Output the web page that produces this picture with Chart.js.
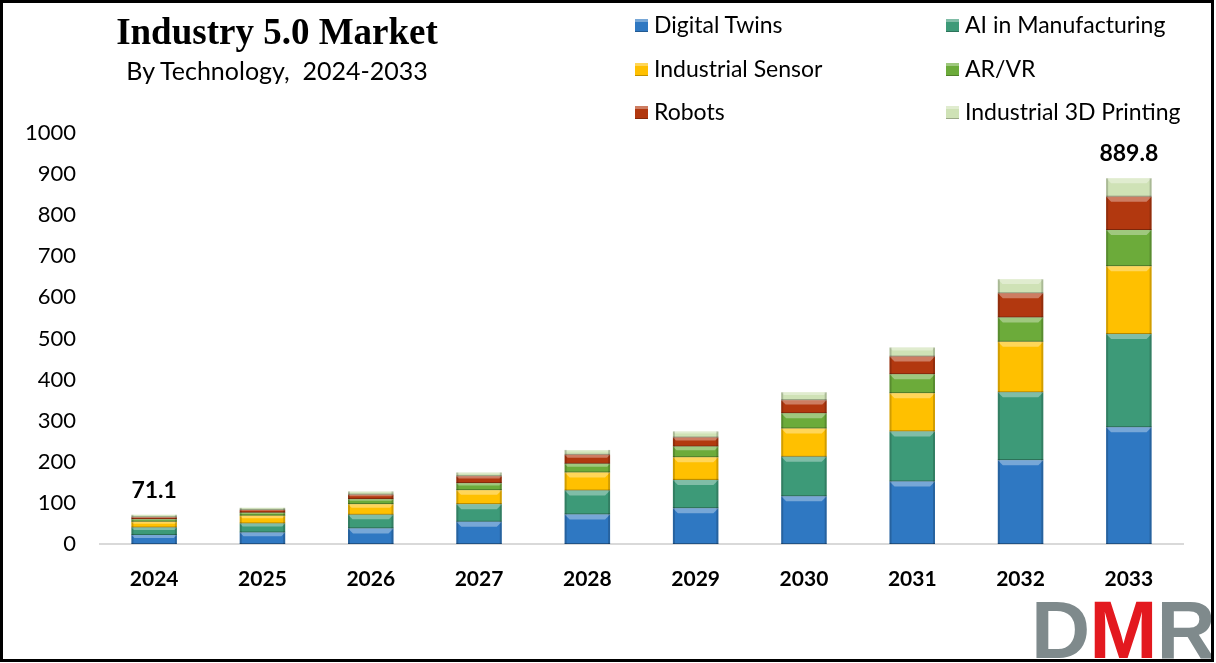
<!DOCTYPE html>
<html>
<head>
<meta charset="utf-8">
<script src="https://cdn.jsdelivr.net/npm/chart.js@4.4.1/dist/chart.umd.min.js"></script>
<style>
    html, body { margin: 0; padding: 0; background: #fff; }
    #wrap { position: relative; width: 1216px; height: 663px; overflow: hidden; }
    #chart { position: absolute; left: 0; top: 0; }
    #frame {
        position: absolute; left: 0; top: 0; width: 1214px; height: 662px;
        box-sizing: border-box; border: 3px solid #000; pointer-events: none;
    }
    .title {
        position: absolute; left: 0; width: 554px; text-align: center;
        font-family: "Liberation Serif", serif; font-weight: bold; font-size: 37px;
        top: 10px; color: #000;
    }
    .subtitle {
        position: absolute; left: 0; width: 554px; text-align: center;
        font-family: Lato, sans-serif; font-size: 25px; top: 55px; color: #000;
        white-space: pre;
    }
    .legend-item {
        position: absolute; font-family: Lato, sans-serif; font-size: 23px; color: #000;
        white-space: nowrap; line-height: 26px;
    }
    .legend-item span.box {
        display: inline-block; width: 13px; height: 13px; margin-right: 6px;
        vertical-align: 1px; box-shadow: inset 0 3px 0 rgba(255,255,255,0.35), inset 0 -1px 0 rgba(0,0,0,0.25);
    }
    .logo {
        position: absolute; left: 1031px; top: 589px; font-family: "Liberation Sans", sans-serif;
        font-weight: bold; font-size: 82px; letter-spacing: -1px; line-height: 1;
    }
</style>
</head>
<body>
<div id="wrap">
    <canvas id="chart" width="1216" height="663"></canvas>
    <div class="title">Industry 5.0 Market</div>
    <div class="subtitle">By Technology,  2024-2033</div>
    <div id="legend"></div>
    <div class="logo"><span style="color:#7f8a8c">D</span><span style="color:#e3191f">M</span><span style="color:#7f8a8c">R</span></div>
    <div id="frame"></div>
</div>
<script>
// Values (USD bn)
const years = ['2024', '2025', '2026', '2027', '2028', '2029', '2030', '2031', '2032', '2033'];
const digitalTwins     = [22, 28, 38, 54, 72, 87, 116, 152, 204, 284];
const aiManufacturing  = [18, 22, 33, 43, 58, 69, 96, 122, 165, 227];
const industrialSensor = [14, 19, 26, 34, 44, 55, 69, 93, 123, 165];
const arVr             = [6, 7, 12, 17, 21, 26, 37, 46, 59, 88];
const robots           = [5, 7, 11, 17, 22, 22, 32, 43, 59, 81];
const printing3d       = [6.1, 5, 8, 9, 12, 15, 19, 22, 34, 44.8];
const totalLabels      = ['71.1', '', '', '', '', '', '', '', '', '889.8'];
const yTicks           = [0, 100, 200, 300, 400, 500, 600, 700, 800, 900, 1000];

const seriesNames  = ['Digital Twins', 'AI in Manufacturing', 'Industrial Sensor', 'AR/VR', 'Robots', 'Industrial 3D Printing'];
const seriesValues = [digitalTwins, aiManufacturing, industrialSensor, arVr, robots, printing3d];
const seriesColors = ['#2f78c2', '#3d9a78', '#ffc000', '#6cab3a', '#b2380f', '#cfe2b6'];

const datasets = seriesNames.map((name, i) => ({
    label: name,
    data: seriesValues[i],
    backgroundColor: seriesColors[i],
    borderWidth: 0,
    categoryPercentage: 1,
    barPercentage: 0.42,
    stack: 'total'
}));

// Legend: two columns, built from the same series
const legendEl = document.getElementById('legend');
const legendCols = [635, 946];
const legendRows = [11, 55, 98];
seriesNames.forEach((name, i) => {
    const item = document.createElement('div');
    item.className = 'legend-item';
    item.style.left = legendCols[i % 2] + 'px';
    item.style.top = legendRows[Math.floor(i / 2)] + 'px';
    item.innerHTML = '<span class="box" style="background:' + seriesColors[i] + '"></span>' + name;
    legendEl.appendChild(item);
});

// Bevel look on each segment
const bevelPlugin = {
    id: 'bevel',
    afterDatasetsDraw(chart) {
        const ctx = chart.ctx;
        ctx.save();
        chart.data.datasets.forEach((ds, di) => {
            chart.getDatasetMeta(di).data.forEach(bar => {
                const left = bar.x - bar.width / 2;
                const right = bar.x + bar.width / 2;
                const top = Math.min(bar.y, bar.base);
                const bottom = Math.max(bar.y, bar.base);
                const h = bottom - top;
                if (h < 1) return;
                const b = Math.min(5, h / 3);
                ctx.fillStyle = 'rgba(255,255,255,0.35)';
                ctx.beginPath();
                ctx.moveTo(left, top);
                ctx.lineTo(right, top);
                ctx.lineTo(right - b, top + b);
                ctx.lineTo(left + b, top + b);
                ctx.closePath();
                ctx.fill();
                ctx.fillStyle = 'rgba(0,0,0,0.18)';
                ctx.fillRect(left, top, 2, h);
                ctx.fillRect(right - 2, top, 2, h);
                ctx.fillStyle = 'rgba(0,0,0,0.3)';
                ctx.fillRect(left, bottom - 1, bar.width, 1);
            });
        });
        ctx.restore();
    }
};

// Totals above first and last bars
const totalsPlugin = {
    id: 'totals',
    afterDatasetsDraw(chart) {
        const ctx = chart.ctx;
        const lastMeta = chart.getDatasetMeta(chart.data.datasets.length - 1);
        ctx.save();
        ctx.font = 'bold 23px Lato';
        ctx.fillStyle = '#000';
        ctx.textAlign = 'center';
        ctx.textBaseline = 'bottom';
        totalLabels.forEach((txt, i) => {
            if (!txt) return;
            const bar = lastMeta.data[i];
            ctx.fillText(txt, bar.x, bar.y - 13);
        });
        ctx.restore();
    }
};

new Chart(document.getElementById('chart'), {
    type: 'bar',
    data: { labels: years, datasets },
    options: {
        responsive: false,
        animation: false,
        layout: { padding: { top: 133, right: 33, left: 0, bottom: 0 } },
        plugins: {
            legend: { display: false },
            tooltip: { enabled: false }
        },
        scales: {
            x: {
                stacked: true,
                grid: { display: false, drawTicks: false },
                border: { display: true, color: '#d9d9d9', width: 2 },
                ticks: {
                    color: '#000',
                    padding: 23,
                    font: { family: 'Lato', size: 21, weight: 'bold' }
                },
                afterFit(scale) { scale.height = 119; }
            },
            y: {
                stacked: true,
                min: 0,
                max: 1000,
                afterBuildTicks(scale) { scale.ticks = yTicks.map(v => ({ value: v })); },
                grid: { display: false, drawTicks: false },
                border: { display: false },
                ticks: {
                    color: '#000',
                    padding: 24,
                    font: { family: 'Lato', size: 22 },
                    callback: value => String(value)
                },
                afterFit(scale) { scale.width = 100; }
            }
        }
    },
    plugins: [bevelPlugin, totalsPlugin]
});
</script>
</body>
</html>
